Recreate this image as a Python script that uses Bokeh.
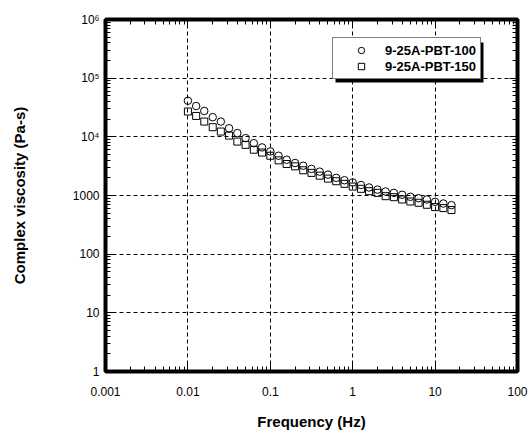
from bokeh.plotting import figure
from bokeh.models import (LogAxis, FixedTicker, CustomJSTickFormatter, Legend,
                          LegendItem, BoxAnnotation, Range1d, ColumnDataSource)
from bokeh.embed import file_html
from bokeh.resources import INLINE

# ---- data ----
freq = [0.01, 0.0126, 0.0158, 0.02, 0.0251, 0.0316, 0.0398, 0.0501, 0.0631, 0.0794,
        0.1, 0.126, 0.158, 0.2, 0.251, 0.316, 0.398, 0.501, 0.631, 0.794,
        1.0, 1.26, 1.58, 2.0, 2.51, 3.16, 3.98, 5.01, 6.31, 7.94,
        10.0, 12.6, 15.8]
eta_100 = [41200, 33500, 27600, 21600, 18200, 14000, 11600, 9500, 7800, 6600,
           5640, 4760, 4070, 3580, 3220, 2840, 2550, 2270, 2000, 1820,
           1670, 1510, 1370, 1260, 1170, 1110, 1030, 950, 900, 855,
           780, 730, 685]
eta_150 = [27000, 22700, 18200, 14600, 12300, 10500, 8300, 7300, 6030, 5400,
           4760, 3970, 3440, 3140, 2690, 2430, 2180, 1940, 1750, 1580,
           1420, 1300, 1185, 1110, 973, 935, 855, 790, 752, 695,
           634, 610, 564]
series_labels = ["9-25A-PBT-100", "9-25A-PBT-150"]
x_major = [0.001, 0.01, 0.1, 1, 10, 100]
y_major = [1, 10, 100, 1000, 10000, 100000, 1000000]
x_minor = [m * d for d in x_major[:-1] for m in range(2, 10)]
y_minor = [m * d for d in y_major[:-1] for m in range(2, 10)]
x_title = "Frequency (Hz)"
y_title = "Complex viscosity (Pa-s)"

FONT = "Liberation Sans"

p = figure(width=531, height=432, x_axis_type="log", y_axis_type="log",
           x_range=Range1d(0.001, 100), y_range=Range1d(1, 1e6),
           output_backend="svg", toolbar_location=None,
           min_border_left=105, min_border_right=14, min_border_top=19,
           min_border_bottom=59)
p.outline_line_color = "black"
p.outline_line_width = 4
p.background_fill_color = "white"

xt = FixedTicker(ticks=x_major, minor_ticks=x_minor)
yt = FixedTicker(ticks=y_major, minor_ticks=y_minor)

xfmt = CustomJSTickFormatter(code="""
return tick >= 1 ? String(Math.round(tick)) : tick.toPrecision(1);
""")
yfmt = CustomJSTickFormatter(code="""
const e = Math.round(Math.log10(tick));
const sup = {4: '\u2074', 5: '\u2075', 6: '\u2076'};
if (e >= 4) return '10' + sup[e];
return String(Math.round(tick));
""")

def style_axis(ax):
    ax.axis_line_color = None
    ax.major_tick_in = 8
    ax.major_tick_out = 0
    ax.minor_tick_in = 5
    ax.minor_tick_out = 0
    ax.major_tick_line_color = "black"
    ax.minor_tick_line_color = "black"
    ax.major_label_text_font = FONT
    ax.major_label_text_font_size = "12px"
    ax.major_label_text_color = "black"
    ax.axis_label_text_font = FONT
    ax.axis_label_text_font_size = "15px"
    ax.axis_label_text_font_style = "bold"
    ax.axis_label_text_color = "black"

xa = p.xaxis[0]
xa.ticker = xt
xa.formatter = xfmt
style_axis(xa)
xa.major_label_standoff = 15
xa.axis_label = x_title
xa.axis_label_standoff = 14

ya = p.yaxis[0]
ya.ticker = yt
ya.formatter = yfmt
style_axis(ya)
ya.major_label_standoff = 6
ya.axis_label = y_title
ya.axis_label_standoff = 42

blank = "return '';"
top = LogAxis(ticker=FixedTicker(ticks=x_major, minor_ticks=x_minor),
              formatter=CustomJSTickFormatter(code=blank))
right = LogAxis(ticker=FixedTicker(ticks=y_major, minor_ticks=y_minor),
                formatter=CustomJSTickFormatter(code=blank))
for ax in (top, right):
    style_axis(ax)
    ax.major_label_standoff = 0
p.add_layout(top, "above")
p.add_layout(right, "right")

for g in (p.xgrid[0], p.ygrid[0]):
    g.grid_line_color = "black"
    g.grid_line_dash = "4 3"
    g.grid_line_width = 1
p.xgrid[0].ticker = xt
p.ygrid[0].ticker = yt

src = ColumnDataSource(dict(f=freq, a=eta_100, b=eta_150))
r1 = p.scatter("f", "a", source=src, marker="circle", size=7.5,
               fill_color=None, line_color="black", line_width=1)
r2 = p.scatter("f", "b", source=src, marker="square", size=7,
               fill_color=None, line_color="black", line_width=1)

# legend shadow
shadow = BoxAnnotation(left=230, right=378, bottom=289, top=329,
                       left_units="screen", right_units="screen",
                       bottom_units="screen", top_units="screen",
                       fill_color="black", fill_alpha=1, line_color=None,
                       editable=False)
p.add_layout(shadow)

legend = Legend(items=[LegendItem(label=series_labels[0], renderers=[r1]),
                       LegendItem(label=series_labels[1], renderers=[r2])],
                location=(227, 292), padding=4, spacing=0, margin=0,
                glyph_width=48, glyph_height=16, label_height=16,
                label_standoff=0,
                label_text_font=FONT, label_text_font_style="bold",
                label_text_font_size="13px", label_text_color="black",
                border_line_color="black", border_line_width=1,
                background_fill_color="white", background_fill_alpha=1)
p.add_layout(legend)

open("out.html", "w").write(file_html(p, INLINE))
